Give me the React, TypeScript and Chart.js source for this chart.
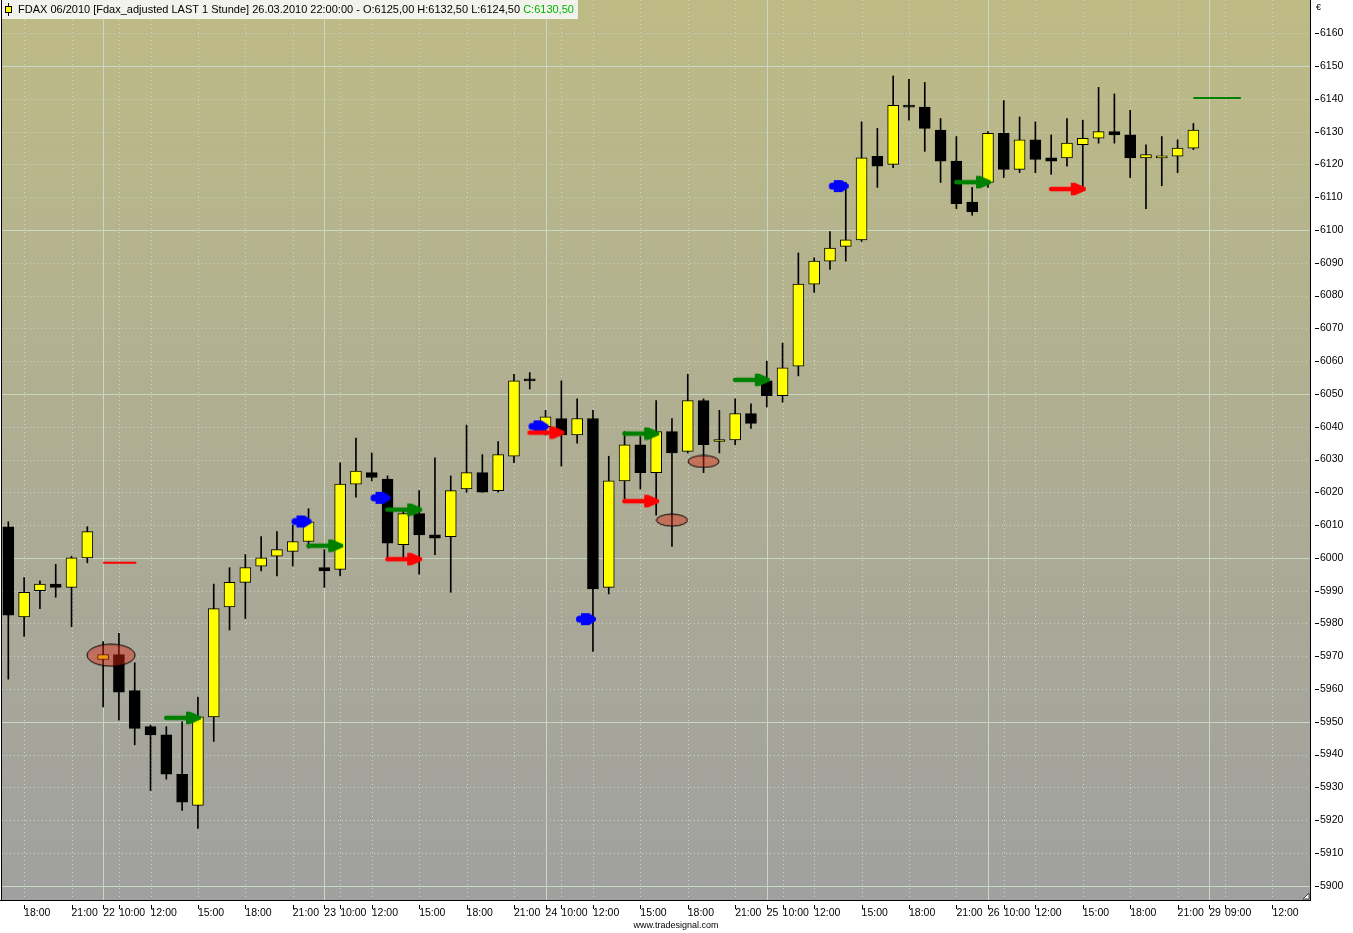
import React, { useEffect, useRef } from 'react';
import { Chart, registerables } from 'chart.js';

Chart.register(...registerables);

// ---- OHLC data (hourly bars, index 0 = 19.03 17:00) ----
const opens = [6009.5, 5982, 5990, 5992, 5991, 6000, 5969, 5970.5, 5959.5, 5948.5, 5946, 5934, 5924.5, 5951.5, 5985, 5992.5, 5997.5, 6000.5, 6002, 6005, 5997, 5996.5, 6022.5, 6026, 6024, 6004, 6013.5, 6007, 6006.5, 6021, 6026, 6020.5, 6031, 6054.5, 6040, 6042.5, 6037.5, 6042.5, 5991, 6023.5, 6034.5, 6026, 6038.5, 6032.5, 6048, 6035.5, 6036, 6044, 6054, 6049.5, 6058.5, 6083.5, 6090.5, 6095, 6097, 6122.5, 6120, 6137.5, 6137.5, 6130.5, 6121, 6108.5, 6114.5, 6129.5, 6118.5, 6127.5, 6122, 6122, 6126, 6128, 6130, 6129, 6122, 6122, 6122.5, 6125];
const highs = [6011, 5994, 5993, 5998, 6000.5, 6009.5, 5974.5, 5977, 5968, 5949, 5948.5, 5950, 5957.5, 5992, 5997, 6001, 6006.5, 6008, 6010, 6015, 6002.5, 6029, 6036.5, 6032, 6025, 6015, 6020.5, 6030.5, 6025, 6040.5, 6031.5, 6035.5, 6056, 6056.5, 6045, 6054, 6048.5, 6045, 6031, 6038.5, 6037, 6048, 6042.5, 6056, 6048.5, 6045, 6048.5, 6047, 6060, 6065.5, 6093, 6091.5, 6099.5, 6114.5, 6133, 6131, 6147, 6146, 6145, 6134, 6128.5, 6113, 6130, 6139.5, 6134.5, 6133, 6129, 6134, 6133.5, 6143.5, 6141.5, 6136.5, 6126, 6128.5, 6127.5, 6132.5];
const lows = [5963, 5976, 5984.5, 5988, 5979, 5998.5, 5954.5, 5950.5, 5943, 5929, 5932.5, 5923, 5917.5, 5944, 5978, 5981.5, 5996, 5994.5, 5997.5, 6003, 5991, 5994.5, 6018.5, 6023.5, 6000, 6000, 5995, 6001, 5989.5, 6020, 6020, 6020, 6029, 6051.5, 6037.5, 6028, 6035, 5971.5, 5989, 6018, 6021, 6013, 6003.5, 6032, 6026, 6032, 6034.5, 6039.5, 6046, 6047.5, 6055.5, 6081, 6088, 6090.5, 6096.5, 6113, 6119, 6133.5, 6124, 6114.5, 6106.5, 6104.5, 6113, 6116, 6117.5, 6117.5, 6117, 6119.5, 6112.5, 6126.5, 6126.5, 6116, 6106.5, 6113.5, 6117.5, 6124.5];
const closes = [5982.5, 5989.5, 5992, 5991, 6000, 6008, 5970.5, 5959, 5948, 5946, 5934, 5925.5, 5951.5, 5984.5, 5992.5, 5997, 6000, 6002.5, 6005, 6011, 5996, 6022.5, 6026.5, 6024.5, 6004.5, 6013.5, 6007, 6006, 6020.5, 6026, 6020, 6031.5, 6054, 6054, 6043, 6037.5, 6042.5, 5990.5, 6023.5, 6034.5, 6026, 6038.5, 6032, 6048, 6034.5, 6036, 6044, 6041, 6049.5, 6058, 6083.5, 6090.5, 6094.5, 6097, 6122, 6119.5, 6138, 6137.5, 6131, 6121, 6108, 6105.5, 6129.5, 6118.5, 6127.5, 6121.5, 6121, 6126.5, 6128, 6130, 6129, 6122, 6123, 6122.5, 6125, 6130.5];

// ---- axis ticks ----
const xTickIdx = [1, 4, 6, 7, 9, 12, 15, 18, 20, 21, 23, 26, 29, 32, 34, 35, 37, 40, 43, 46, 48, 49, 51, 54, 57, 60, 62, 63, 65, 68, 71, 74, 76, 77, 80];
const xTickLabels = ['18:00', '21:00', '22', '10:00', '12:00', '15:00', '18:00', '21:00', '23', '10:00', '12:00', '15:00', '18:00', '21:00', '24', '10:00', '12:00', '15:00', '18:00', '21:00', '25', '10:00', '12:00', '15:00', '18:00', '21:00', '26', '10:00', '12:00', '15:00', '18:00', '21:00', '29', '09:00', '12:00'];
const dayStartIdx = [6, 20, 34, 48, 62, 76];
const yTicks = [5900, 5910, 5920, 5930, 5940, 5950, 5960, 5970, 5980, 5990, 6000, 6010, 6020, 6030, 6040, 6050, 6060, 6070, 6080, 6090, 6100, 6110, 6120, 6130, 6140, 6150, 6160];

// ---- signal markers ----
const greenArrowIdx = [12, 21, 26, 41, 48, 62];
const greenArrowVal = [5951.2, 6003.7, 6014.7, 6037.9, 6054.3, 6114.6];
const redArrowIdx = [26, 35, 41, 68];
const redArrowVal = [5999.6, 6038.2, 6017.3, 6112.5];
const blueArrowIdx = [19, 24, 34, 37, 53];
const blueArrowVal = [6011.1, 6018.3, 6040.1, 5981.3, 6113.4];
const ellipseIdx = [6.5, 42, 44];
const ellipseVal = [5970.3, 6011.5, 6029.4];
const redLineIdx = [6, 8.1];
const redLineVal = 5998.5;
const greenLineIdx = [75, 78];
const greenLineVal = 6140.3;

const TITLE_MAIN = 'FDAX 06/2010 [Fdax_adjusted LAST 1 Stunde] 26.03.2010 22:00:00 - O:6125,00 H:6132,50 L:6124,50 ';
const TITLE_CLOSE = 'C:6130,50';
const FOOTER = 'www.tradesignal.com';

function makeArrow(color: string, len: number, blue: boolean): HTMLCanvasElement {
  const W = len * 2 + 8;
  const H = 14;
  const c = document.createElement('canvas');
  c.width = W;
  c.height = H;
  const g = c.getContext('2d')!;
  const cx = W / 2;
  const cy = H / 2;
  const tip = cx + 3;
  const tail = tip - len;
  g.fillStyle = color;
  g.beginPath();
  if (!blue) {
    const hs = tip - 15;
    g.moveTo(tail + 2.2, cy - 2.2);
    g.lineTo(hs, cy - 2.2);
    g.lineTo(hs, cy - 6.3);
    g.lineTo(hs + 4, cy - 6.3);
    g.lineTo(tip, cy - 1.5);
    g.lineTo(tip, cy + 1.5);
    g.lineTo(hs + 4, cy + 6.3);
    g.lineTo(hs, cy + 6.3);
    g.lineTo(hs, cy + 2.2);
    g.lineTo(tail + 2.2, cy + 2.2);
    g.arc(tail + 2.2, cy, 2.2, Math.PI / 2, (3 * Math.PI) / 2);
  } else {
    g.moveTo(tail + 3.5, cy - 3.5);
    g.lineTo(tail + 5, cy - 3.5);
    g.lineTo(tail + 5, cy - 6);
    g.lineTo(tail + 13, cy - 6);
    g.lineTo(tip, cy - 1.5);
    g.lineTo(tip, cy + 1.5);
    g.lineTo(tail + 13, cy + 6);
    g.lineTo(tail + 5, cy + 6);
    g.lineTo(tail + 5, cy + 3.5);
    g.lineTo(tail + 3.5, cy + 3.5);
    g.arc(tail + 3.5, cy, 3.5, Math.PI / 2, (3 * Math.PI) / 2);
  }
  g.closePath();
  g.fill();
  return c;
}

function makeEllipse(w: number, h: number): HTMLCanvasElement {
  const c = document.createElement('canvas');
  c.width = w + 2;
  c.height = h + 2;
  const g = c.getContext('2d')!;
  g.beginPath();
  g.ellipse(c.width / 2, c.height / 2, w / 2, h / 2, 0, 0, Math.PI * 2);
  g.fillStyle = 'rgba(220,40,20,0.45)';
  g.fill();
  g.strokeStyle = '#000';
  g.lineWidth = 1;
  g.stroke();
  return c;
}

const FONT = "'Liberation Sans', Arial, sans-serif";

const decorPlugin = {
  id: 'decor',
  beforeDraw(chart: any) {
    const { ctx, chartArea } = chart;
    const { left, top, right, bottom } = chartArea;
    const x = chart.scales.x;
    const y = chart.scales.y;
    ctx.save();
    ctx.fillStyle = '#ffffff';
    ctx.fillRect(0, 0, chart.width, chart.height);
    const grad = ctx.createLinearGradient(0, top, 0, bottom);
    grad.addColorStop(0, '#bebb86');
    grad.addColorStop(1, '#a0a0a0');
    ctx.fillStyle = grad;
    ctx.fillRect(left, top, right - left, bottom - top);

    ctx.lineWidth = 1;
    ctx.strokeStyle = '#c9d8c3';
    for (const v of yTicks) {
      const py = Math.round(y.getPixelForValue(v)) + 0.5;
      ctx.setLineDash(v % 50 === 0 ? [] : [1, 3]);
      ctx.beginPath();
      ctx.moveTo(left, py);
      ctx.lineTo(right, py);
      ctx.stroke();
    }
    for (const i of xTickIdx) {
      const px = Math.round(x.getPixelForValue(i)) + 0.5;
      ctx.setLineDash(dayStartIdx.includes(i) ? [] : [1, 3]);
      ctx.beginPath();
      ctx.moveTo(px, top);
      ctx.lineTo(px, bottom);
      ctx.stroke();
    }
    ctx.setLineDash([]);
    ctx.restore();
  },
  afterDraw(chart: any) {
    const { ctx, chartArea } = chart;
    const { right, bottom } = chartArea;
    const x = chart.scales.x;
    const y = chart.scales.y;
    ctx.save();
    // frame
    ctx.fillStyle = '#000';
    ctx.fillRect(1, 0, 1, bottom + 1);
    ctx.fillRect(0, bottom, right + 1, 1);
    ctx.fillRect(right, 0, 1, bottom + 1);
    // y tick marks
    for (const v of yTicks) {
      const py = Math.round(y.getPixelForValue(v));
      ctx.fillRect(right + 5, py, 4, 1);
    }
    // x tick marks
    for (const i of xTickIdx) {
      const px = Math.round(x.getPixelForValue(i));
      ctx.fillRect(px, bottom + 5, 1, 4);
    }
    // resize grip
    ctx.beginPath();
    ctx.moveTo(right - 7, bottom - 1);
    ctx.lineTo(right - 1, bottom - 7);
    ctx.lineTo(right - 1, bottom - 1);
    ctx.closePath();
    ctx.fillStyle = '#ffffff';
    ctx.fill();
    ctx.strokeStyle = '#404040';
    ctx.stroke();
    // euro sign
    ctx.fillStyle = '#000';
    ctx.font = `9px ${FONT}`;
    ctx.textBaseline = 'middle';
    ctx.textAlign = 'left';
    ctx.fillText('€', right + 6, 8);
    // title box
    ctx.font = `11px ${FONT}`;
    const w1 = ctx.measureText(TITLE_MAIN).width;
    const w2 = ctx.measureText(TITLE_CLOSE).width;
    ctx.fillStyle = '#f3f3ed';
    ctx.fillRect(2, 0, 16 + w1 + w2 + 4, 19);
    // icon
    ctx.fillStyle = '#000';
    ctx.fillRect(8, 3, 1, 13);
    ctx.fillRect(5, 6, 7, 7);
    ctx.fillStyle = '#ffff00';
    ctx.fillRect(6, 7, 5, 5);
    ctx.fillStyle = '#000';
    ctx.textBaseline = 'middle';
    ctx.fillText(TITLE_MAIN, 18, 10);
    ctx.fillStyle = '#00b400';
    ctx.fillText(TITLE_CLOSE, 18 + w1, 10);
    // footer
    ctx.fillStyle = '#000';
    ctx.font = `9px ${FONT}`;
    ctx.textAlign = 'center';
    ctx.fillText(FOOTER, 676, 926);
    ctx.restore();
  },
};

export default function App() {
  const ref = useRef<HTMLCanvasElement | null>(null);

  useEffect(() => {
    document.body.style.margin = '0';
    const canvas = ref.current;
    if (!canvas) return;

    const greenImg = makeArrow('#008000', 37, false);
    const redImg = makeArrow('#ff0000', 37, false);
    const blueImg = makeArrow('#0000ff', 20, true);
    const bigEllipse = makeEllipse(48, 22);
    const smallEllipse = makeEllipse(31, 12);

    const wickData = highs.map((h, i) => ({ x: i, y: [lows[i], h] }));
    const bodyData = opens.map((o, i) => ({ x: i, y: [o, closes[i]] }));
    const bodyColors = opens.map((o, i) => (closes[i] > o ? '#ffff00' : '#000000'));

    const chart = new Chart(canvas, {
      type: 'bar',
      data: {
        datasets: [
          {
            type: 'bar',
            data: wickData as any,
            backgroundColor: '#000000',
            borderWidth: 0,
            barThickness: 1,
            grouped: false,
            order: 5,
          } as any,
          {
            type: 'bar',
            data: bodyData as any,
            backgroundColor: bodyColors,
            borderColor: '#000000',
            borderWidth: 1,
            borderSkipped: false,
            barThickness: 11,
            minBarLength: 2,
            grouped: false,
            order: 4,
          } as any,
          {
            type: 'line',
            data: redLineIdx.map((xi) => ({ x: xi, y: redLineVal })),
            borderColor: '#ff0000',
            borderWidth: 2,
            pointRadius: 0,
            fill: false,
            order: 3,
          } as any,
          {
            type: 'line',
            data: greenLineIdx.map((xi) => ({ x: xi, y: greenLineVal })),
            borderColor: '#008000',
            borderWidth: 2,
            pointRadius: 0,
            fill: false,
            order: 3,
          } as any,
          {
            type: 'scatter',
            data: ellipseIdx.map((xi, k) => ({ x: xi, y: ellipseVal[k] })),
            pointStyle: [bigEllipse, smallEllipse, smallEllipse],
            pointRadius: 3,
            order: 2,
          } as any,
          {
            type: 'scatter',
            data: greenArrowIdx.map((xi, k) => ({ x: xi, y: greenArrowVal[k] })),
            pointStyle: greenImg,
            pointRadius: 3,
            order: 1,
          } as any,
          {
            type: 'scatter',
            data: redArrowIdx.map((xi, k) => ({ x: xi, y: redArrowVal[k] })),
            pointStyle: redImg,
            pointRadius: 3,
            order: 1,
          } as any,
          {
            type: 'scatter',
            data: blueArrowIdx.map((xi, k) => ({ x: xi, y: blueArrowVal[k] })),
            pointStyle: blueImg,
            pointRadius: 3,
            order: 1,
          } as any,
        ],
      },
      options: {
        responsive: false,
        animation: false,
        events: [],
        layout: { autoPadding: false, padding: { left: 2, top: 0, right: 0, bottom: 0 } },
        plugins: {
          legend: { display: false },
          tooltip: { enabled: false },
          title: { display: false },
        },
        scales: {
          x: {
            type: 'linear',
            position: 'bottom',
            min: -0.4,
            max: 82.38,
            offset: false,
            grid: { display: false, drawTicks: false, offset: false },
            border: { display: false },
            afterBuildTicks: (s: any) => {
              s.ticks = xTickIdx.map((v) => ({ value: v }));
            },
            afterFit: (s: any) => {
              s.height = 33;
              s.paddingLeft = 0;
              s.paddingRight = 0;
              s.paddingTop = 0;
              s.paddingBottom = 0;
            },
            ticks: {
              autoSkip: false,
              maxRotation: 0,
              minRotation: 0,
              align: 'start',
              padding: 7,
              color: '#000000',
              font: { family: FONT, size: 10.5 },
              callback: (_v: any, idx: number) => xTickLabels[idx],
            },
          } as any,
          y: {
            type: 'linear',
            position: 'right',
            min: 5895.64,
            max: 6170.16,
            beginAtZero: false,
            grid: { display: false, drawTicks: false },
            border: { display: false },
            afterBuildTicks: (s: any) => {
              s.ticks = yTicks.map((v) => ({ value: v }));
            },
            afterFit: (s: any) => {
              s.width = 43;
              s.paddingLeft = 0;
              s.paddingRight = 0;
              s.paddingTop = 0;
              s.paddingBottom = 0;
            },
            ticks: {
              padding: 10,
              color: '#000000',
              font: { family: FONT, size: 10.5 },
              callback: (v: any) => String(v),
            },
          } as any,
        },
      } as any,
      plugins: [decorPlugin],
    });

    return () => chart.destroy();
  }, []);

  return (
    <div style={{ width: 1353, height: 933 }}>
      <canvas ref={ref} width={1353} height={933} style={{ display: 'block', width: 1353, height: 933 }} />
    </div>
  );
}
